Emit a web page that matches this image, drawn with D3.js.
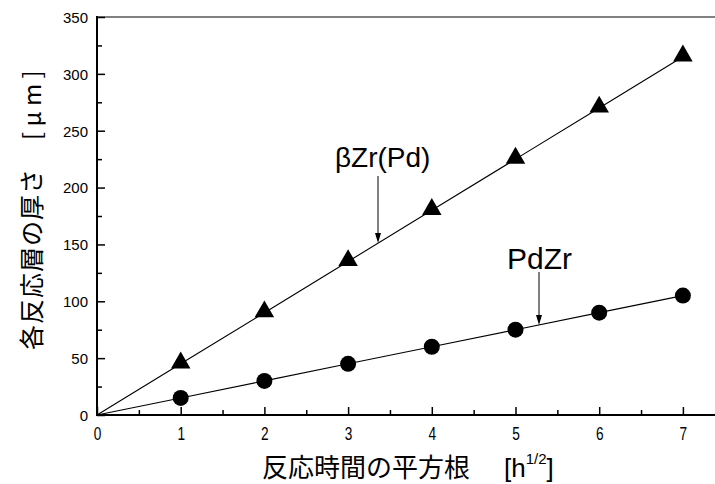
<!DOCTYPE html>
<html><head><meta charset="utf-8">
<script src="https://cdn.jsdelivr.net/npm/d3@7"></script>
<style>
html,body{margin:0;padding:0;background:#fff;}
svg{display:block;}
</style></head>
<body>
<script>
const xValues = [1, 2, 3, 4, 5, 6, 7];
const betaZrPd = [45, 90, 135, 180, 225, 270, 315];
const pdZr = [15, 30, 45, 60, 75, 90, 105];
const xTicks = [0, 1, 2, 3, 4, 5, 6, 7];
const yTicks = [0, 50, 100, 150, 200, 250, 300, 350];
const xLabel = "反応時間の平方根";
const yLabel = "各反応層の厚さ";
const seriesNames = ["βZr(Pd)", "PdZr"];

const W = 715, H = 484;
const svg = d3.select("body").append("svg").attr("width", W).attr("height", H);

const x = d3.scaleLinear().domain([0, 7.4]).range([97, 97 + 7.4 * 83.7]);
const y = d3.scaleLinear().domain([0, 350]).range([415, 17]);

const jpFont = "'Noto Sans CJK JP','Noto Sans',sans-serif";
const latFont = "'Liberation Sans',Arial,sans-serif";

// top border (gray)
svg.append("line").attr("x1", x(0)).attr("x2", W).attr("y1", y(350)).attr("y2", y(350))
  .attr("stroke", "#808080").attr("stroke-width", 2);

// x axis
const xAxis = d3.axisBottom(x).tickValues(xTicks).tickSize(-8).tickFormat(d3.format("d"));
const gx = svg.append("g").attr("transform", `translate(0,${y(0)})`).call(xAxis);
gx.select(".domain").remove();
gx.selectAll(".tick line").attr("stroke", "#000").attr("stroke-width", 1.5);
gx.selectAll(".tick text").attr("y", 25).attr("dy", 0).attr("transform", "scale(0.72,1)")
  .attr("font-family", latFont).attr("font-size", 19).attr("fill", "#000");
const xMinor = d3.axisBottom(x).tickValues(d3.range(0.5, 7.5, 1)).tickSize(-5).tickFormat("");
const gxm = svg.append("g").attr("transform", `translate(0,${y(0)})`).call(xMinor);
gxm.select(".domain").remove();
gxm.selectAll(".tick line").attr("stroke", "#000").attr("stroke-width", 1.5);
svg.append("line").attr("x1", x(0)).attr("x2", W).attr("y1", y(0)).attr("y2", y(0))
  .attr("stroke", "#000").attr("stroke-width", 2);

// y axis
const yAxis = d3.axisLeft(y).tickValues(yTicks).tickSize(-8).tickFormat(d3.format("d"));
const gy = svg.append("g").attr("transform", `translate(${x(0)},0)`).call(yAxis);
gy.select(".domain").remove();
gy.selectAll(".tick line").attr("stroke", "#000").attr("stroke-width", 1.5);
gy.selectAll(".tick text").attr("x", -9).attr("dy", "0.36em")
  .attr("font-family", latFont).attr("font-size", 15).attr("fill", "#000");
const yMinor = d3.axisLeft(y).tickValues(d3.range(25, 350, 50)).tickSize(-5).tickFormat("");
const gym = svg.append("g").attr("transform", `translate(${x(0)},0)`).call(yMinor);
gym.select(".domain").remove();
gym.selectAll(".tick line").attr("stroke", "#000").attr("stroke-width", 1.5);
svg.append("line").attr("x1", x(0)).attr("x2", x(0)).attr("y1", y(350) - 1).attr("y2", y(0) + 1)
  .attr("stroke", "#000").attr("stroke-width", 2);

// lines
const line = d3.line().x(d => x(d[0])).y(d => y(d[1]));
[betaZrPd, pdZr].forEach(vals => {
  const pts = [[0, 0]].concat(xValues.map((v, i) => [v, vals[i]]));
  svg.append("path").attr("d", line(pts)).attr("fill", "none")
    .attr("stroke", "#000").attr("stroke-width", 1.1);
});

// markers
svg.selectAll(".tri").data(xValues.map((v, i) => [v, betaZrPd[i]])).enter()
  .append("path").attr("class", "tri")
  .attr("d", d3.symbol().type(d3.symbolTriangle).size(165))
  .attr("transform", d => `translate(${x(d[0])},${y(d[1]) - 1})`)
  .attr("fill", "#000");
svg.selectAll(".dot").data(xValues.map((v, i) => [v, pdZr[i]])).enter()
  .append("circle").attr("class", "dot")
  .attr("cx", d => x(d[0])).attr("cy", d => y(d[1])).attr("r", 8)
  .attr("fill", "#000");

// annotations
function arrow(xp, y1, y2) {
  svg.append("line").attr("x1", xp).attr("x2", xp).attr("y1", y1).attr("y2", y2 - 8)
    .attr("stroke", "#000").attr("stroke-width", 1);
  svg.append("path").attr("d", `M${xp - 3},${y2 - 10} L${xp + 3},${y2 - 10} L${xp},${y2} Z`)
    .attr("fill", "#000");
}
svg.append("text").attr("x", 335).attr("y", 167).attr("font-family", latFont)
  .attr("font-size", 28).attr("fill", "#000").text(seriesNames[0]);
arrow(378, 176, 243);
svg.append("text").attr("x", 507).attr("y", 269).attr("font-family", latFont)
  .attr("font-size", 30).attr("fill", "#000").text(seriesNames[1]);
arrow(539, 272, 325);

// x label
const xl = svg.append("text").attr("x", 262).attr("y", 477).attr("fill", "#000");
xl.append("tspan").attr("font-family", jpFont).attr("font-size", 26).text(xLabel);
xl.append("tspan").attr("x", 504).attr("font-family", latFont).attr("font-size", 26).text("[h");
xl.append("tspan").attr("dy", -13).attr("font-family", latFont).attr("font-size", 15).text("1/2");
xl.append("tspan").attr("dy", 13).attr("font-family", latFont).attr("font-size", 26).text("]");

// y label
const yl = svg.append("text").attr("transform", "translate(41,350) rotate(-90)").attr("fill", "#000")
  .attr("font-family", jpFont).attr("font-size", 25);
yl.append("tspan").attr("letter-spacing", 1).text(yLabel);
yl.append("tspan").attr("x", 210).attr("font-size", 24).text("[ μ m ]");
</script>
</body></html>
